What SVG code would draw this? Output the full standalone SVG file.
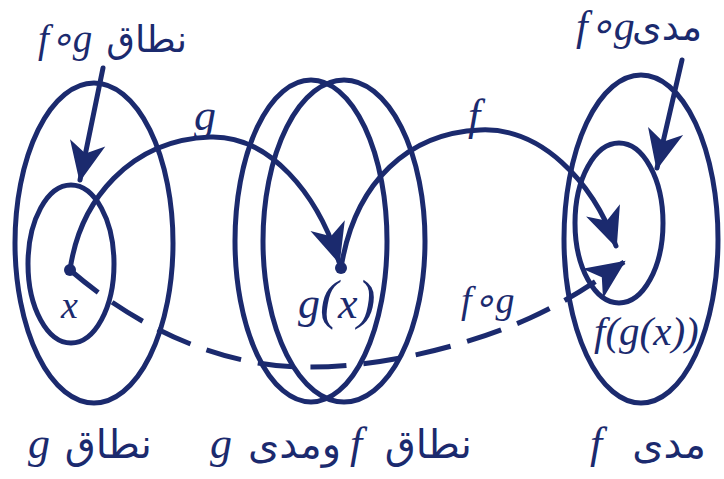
<svg xmlns="http://www.w3.org/2000/svg" width="724" height="479" viewBox="0 0 724 479">
<style>
.set{fill:none;stroke:#1b2a6e;stroke-width:5}
.con{fill:none;stroke:#1b2a6e;stroke-width:5;stroke-linecap:round}
.dash{stroke-dasharray:36 17;stroke-linecap:butt}
.lat{font-family:"Liberation Serif",serif;font-style:italic;fill:#1b2a6e}
.ar{font-family:"DejaVu Sans",sans-serif;fill:#1b2a6e}
.dot{fill:#1b2a6e}
</style>
<defs>
<marker id="ah" markerUnits="userSpaceOnUse" markerWidth="46" markerHeight="46" viewBox="-42 -21 46 42" refX="0" refY="0" orient="auto">
<path d="M2,0 L-38,-18 L-27,0 L-38,18 Z" fill="#1b2a6e"/>
</marker>
</defs>
<rect width="724" height="479" fill="#ffffff"/>

<g id="dom-g">
<ellipse class="set" cx="94" cy="243" rx="79" ry="160"/>
<text class="ar" x="152" y="458" font-size="40" text-anchor="end">نطاق</text>
<text class="lat" x="28" y="458" font-size="44">g</text>
</g>
<g id="dom-fog">
<ellipse class="set" cx="71" cy="264" rx="43" ry="79"/>
<circle class="dot" cx="70" cy="270" r="6"/>
<text class="lat" x="61" y="318" font-size="38">x</text>
<text class="lat" x="38" y="52" font-size="39">f∘g</text>
<text class="ar" x="187" y="52" font-size="37" text-anchor="end">نطاق</text>
</g>
<g id="dom-f">
<ellipse class="set" cx="311" cy="241" rx="76" ry="161"/>
<ellipse class="set" cx="344" cy="241" rx="81" ry="161"/>
<circle class="dot" cx="341" cy="268" r="6"/>
<text class="lat" x="298" y="318" font-size="44">g<tspan font-size="54">(</tspan>x<tspan font-size="54">)</tspan></text>
<text class="lat" x="210" y="458" font-size="44">g</text>
<text class="ar" x="341" y="458" font-size="40" text-anchor="end">ومدى</text>
<text class="lat" x="350" y="458" font-size="44">f</text>
<text class="ar" x="472" y="458" font-size="40" text-anchor="end">نطاق</text>
</g>
<g id="rng-f">
<ellipse class="set" cx="641" cy="239" rx="77" ry="164"/>
<text class="lat" x="590" y="458" font-size="44">f</text>
<text class="ar" x="706" y="458" font-size="40" text-anchor="end">مدى</text>
<text class="lat" x="594" y="345" font-size="41">f(g(x))</text>
</g>
<g id="rng-fog">
<ellipse class="set" cx="619" cy="223" rx="44" ry="80"/>
<text class="lat" x="576" y="40" font-size="42">f∘g</text>
<text class="ar" x="702" y="40" font-size="38" text-anchor="end">مدى</text>
</g>

<g id="connectors">
<path class="con" d="M103,68 L80,180" marker-end="url(#ah)"/>
<path class="con" d="M682,60 L657,168" marker-end="url(#ah)"/>
<path class="con" d="M70,270 C80,200 130,140 210,137 C270,135 318,195 339,262" marker-end="url(#ah)"/>
<path class="con" d="M341,268 C355,180 410,133 480,130 C540,127 592,180 616,246" marker-end="url(#ah)"/>
<path class="con dash" d="M70,270 C140,330 220,365 300,367 C380,369 470,345 530,318 C570,300 598,280 624,262" marker-end="url(#ah)"/>
<text class="lat" x="194" y="130" font-size="44">g</text>
<text class="lat" x="468" y="130" font-size="44">f</text>
<text class="lat" x="461" y="313" font-size="38">f∘g</text>
</g>
</svg>
